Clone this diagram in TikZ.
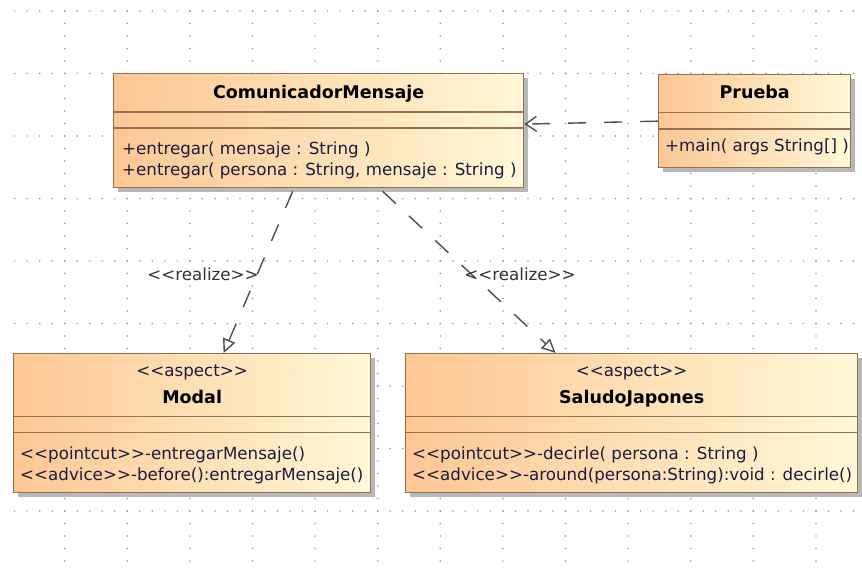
\documentclass[tikz,border=0pt]{standalone}
\usepackage{fontspec}
\setmainfont{DejaVu Sans}[Ligatures=TeXOff]
\usetikzlibrary{arrows.meta, shadows}

\definecolor{umlleft}{RGB}{253,199,148}
\definecolor{umlright}{RGB}{255,248,214}
\definecolor{umlborder}{RGB}{150,112,82}
\definecolor{opsblue}{RGB}{28,28,64}
\definecolor{linkgray}{RGB}{78,78,78}
\definecolor{dotgray}{RGB}{150,150,150}

\begin{document}
\begin{tikzpicture}[x=1pt, y=-1pt,
  umlbox/.style={draw=umlborder, line width=1.3pt, left color=umlleft, right color=umlright,
    drop shadow={shadow xshift=4pt, shadow yshift=-4pt, fill=black!28, opacity=1},
    anchor=north west, inner sep=0pt},
  sepline/.style={draw=umlborder, line width=1.3pt},
  title/.style={font=\fontsize{17.5}{21}\selectfont\bfseries, inner sep=0pt, anchor=base},
  stereo/.style={font=\fontsize{16.7}{20}\selectfont, inner sep=0pt, anchor=base, text=opsblue},
  ops/.style={font=\fontsize{16.7}{20}\selectfont, inner sep=0pt, anchor=base west, text=opsblue},
  lbl/.style={font=\fontsize{16.7}{20}\selectfont, inner sep=0pt, anchor=base, text=black!80},
  dep/.style={draw=linkgray, line width=1.4pt, dash pattern=on 18pt off 18pt,
    -{Straight Barb[length=11pt, width=15pt, line width=1.4pt]}},
  realize/.style={draw=linkgray, line width=1.4pt, dash pattern=on 18pt off 18pt,
    -{Triangle[open, length=14pt, width=13pt, line width=1.4pt]}},
  griddot/.style={fill=dotgray},
]
  \useasboundingbox (0,0) rectangle (862,570);
  \fill[white] (0,0) rectangle (862,570);

  % dotted grid
  \foreach \r in {0,...,8}
    \foreach \j in {1,...,68}
      \fill[griddot] (2.1+12.52*\j, 11+62.5*\r) circle (0.85);
  \foreach \c in {1,...,13}
    \foreach \i in {0,...,44}
      \fill[griddot] (2.1+62.6*\c, 11+12.5*\i) circle (0.85);

  % classes
  \node[umlbox, minimum width=410pt, minimum height=114pt] (cm) at (113,73) {};
  \draw[sepline] ([yshift=-39pt]cm.north west) -- ([yshift=-39pt]cm.north east);
  \draw[sepline] ([yshift=-55pt]cm.north west) -- ([yshift=-55pt]cm.north east);
  \node[title] (cm-name) at ([yshift=-25pt]cm.north) {ComunicadorMensaje};
  \node[ops] (cm-op1) at ([xshift=9pt, yshift=-81pt]cm.north west) {+entregar( mensaje : String )};
  \node[ops] (cm-op2) at ([xshift=9pt, yshift=-102pt]cm.north west) {+entregar( persona : String, mensaje : String )};

  \node[umlbox, minimum width=192pt, minimum height=93pt] (prueba) at (658,74) {};
  \draw[sepline] ([yshift=-38.5pt]prueba.north west) -- ([yshift=-38.5pt]prueba.north east);
  \draw[sepline] ([yshift=-55pt]prueba.north west) -- ([yshift=-55pt]prueba.north east);
  \node[title] (prueba-name) at ([yshift=-24.5pt]prueba.north) {Prueba};
  \node[ops] (prueba-op1) at ([xshift=7pt, yshift=-77.5pt]prueba.north west) {+main( args String[] )};

  \node[umlbox, minimum width=357pt, minimum height=139pt] (modal) at (13,353) {};
  \draw[sepline] ([yshift=-63.5pt]modal.north west) -- ([yshift=-63.5pt]modal.north east);
  \draw[sepline] ([yshift=-79.5pt]modal.north west) -- ([yshift=-79.5pt]modal.north east);
  \node[stereo] (modal-st) at ([yshift=-23.5pt]modal.north) {<<aspect>>};
  \node[title] (modal-name) at ([yshift=-50pt]modal.north) {Modal};
  \node[ops] (modal-op1) at ([xshift=7pt, yshift=-106pt]modal.north west) {<<pointcut>>-entregarMensaje()};
  \node[ops] (modal-op2) at ([xshift=7pt, yshift=-127pt]modal.north west) {<<advice>>-before():entregarMensaje()};

  \node[umlbox, minimum width=452pt, minimum height=139pt] (sj) at (405,353) {};
  \draw[sepline] ([yshift=-63.5pt]sj.north west) -- ([yshift=-63.5pt]sj.north east);
  \draw[sepline] ([yshift=-79.5pt]sj.north west) -- ([yshift=-79.5pt]sj.north east);
  \node[stereo] (sj-st) at ([yshift=-23.5pt]sj.north) {<<aspect>>};
  \node[title] (sj-name) at ([yshift=-50pt]sj.north) {SaludoJapones};
  \node[ops] (sj-op1) at ([xshift=7pt, yshift=-106pt]sj.north west) {<<pointcut>>-decirle( persona : String )};
  \node[ops] (sj-op2) at ([xshift=7pt, yshift=-127pt]sj.north west) {<<advice>>-around(persona:String):void : decirle()};

  % connectors
  \draw[dep] (prueba.west) -- ([yshift=6.5pt]cm.east);
  \draw[realize] ([xshift=-26pt, yshift=-3pt]cm.south) -- ([xshift=31.5pt]modal.north);
  \draw[realize] ([xshift=64pt, yshift=-3pt]cm.south) -- ([xshift=-76pt]sj.north);
  \node[lbl] (real1) at (203,280) {<<realize>>};
  \node[lbl] (real2) at (520,280) {<<realize>>};
\end{tikzpicture}
\end{document}
